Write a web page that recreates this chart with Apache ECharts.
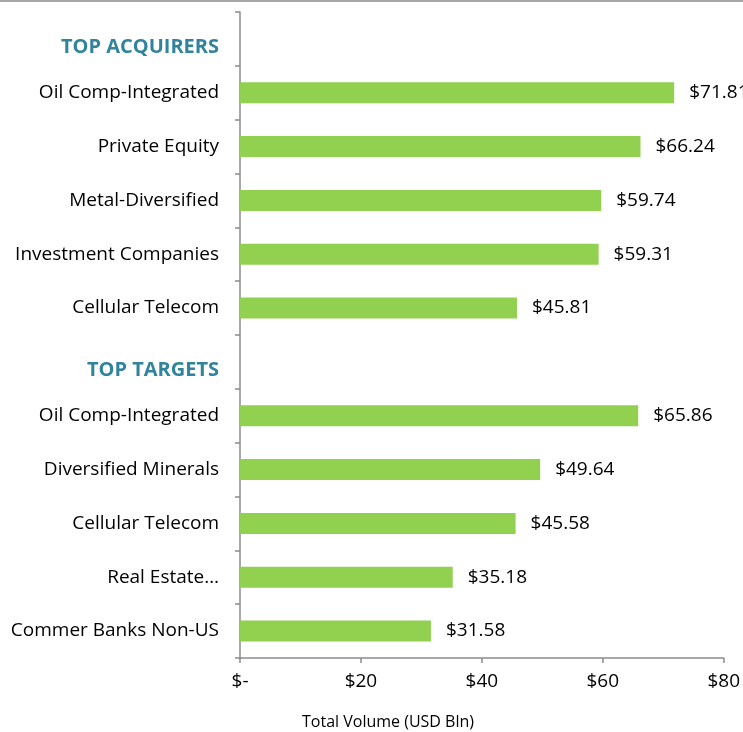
<!DOCTYPE html>
<html>
<head>
<meta charset="utf-8">
<script src="https://cdn.jsdelivr.net/npm/echarts@6/dist/echarts.min.js"></script>
<style>
  html, body { margin: 0; padding: 0; background: #fff; }
  #main { width: 743px; height: 732px; }
</style>
</head>
<body>
<div id="main"></div>
<script>
var chartDom = document.getElementById('main');
var myChart = echarts.init(chartDom);
var option;

// category rows, headers have no bar
var categories = ['TOP ACQUIRERS', 'Oil Comp-Integrated', 'Private Equity', 'Metal-Diversified',
    'Investment Companies', 'Cellular Telecom', 'TOP TARGETS', 'Oil Comp-Integrated ',
    'Diversified Minerals', 'Cellular Telecom ', 'Real Estate\u2026', 'Commer Banks Non-US'];
var headers = ['TOP ACQUIRERS', 'TOP TARGETS'];
var volumes = [null, 71.81, 66.24, 59.74, 59.31, 45.81, null, 65.86, 49.64, 45.58, 35.18, 31.58];
var tickLabels = ['$-', '$20', '$40', '$60', '$80'];

var font = '"Open Sans"';

option = {
    animation: false,
    grid: { left: 240, right: 19, top: 12, bottom: 74, containLabel: false },
    graphic: [
        { type: 'rect', left: 0, top: 0, shape: { width: 743, height: 2 }, style: { fill: '#a6a6a6' } },
        { type: 'text', left: 302, top: 714,
          style: { text: 'Total Volume (USD Bln)', font: '16px "Open Sans"', fill: '#000' } }
    ],
    xAxis: {
        type: 'value',
        min: 0, max: 80, interval: 20,
        axisLine: { show: true, lineStyle: { color: '#8c8c8c', width: 1.5 } },
        axisTick: { show: true, length: 5, lineStyle: { color: '#8c8c8c', width: 1.5 } },
        splitLine: { show: false },
        axisLabel: {
            margin: 14,
            fontFamily: font, fontSize: 19, color: '#000',
            formatter: v => tickLabels[v / 20]
        }
    },
    yAxis: {
        type: 'category',
        inverse: true,
        data: categories,
        axisLine: { show: true, lineStyle: { color: '#8c8c8c', width: 1.5 } },
        axisTick: { show: true, length: 5, lineStyle: { color: '#8c8c8c', width: 1.5 } },
        axisLabel: {
            margin: 21,
            fontFamily: font, fontSize: 19, color: '#000',
            formatter: v => headers.indexOf(v) >= 0 ? '{h|' + v + '}' : v.trim(),
            rich: {
                h: { fontFamily: font, fontSize: 20, fontWeight: 'bold', color: '#31849b', padding: [16, 0, 0, 0] }
            }
        }
    },
    series: [
        {
            type: 'bar',
            data: volumes,
            barWidth: 21,
            itemStyle: { color: '#92d050' },
            label: {
                show: true,
                position: 'right',
                distance: 15,
                fontFamily: font, fontSize: 19, color: '#000',
                formatter: p => '$' + p.value.toFixed(2)
            }
        }
    ]
};

option && myChart.setOption(option);
</script>
</body>
</html>
